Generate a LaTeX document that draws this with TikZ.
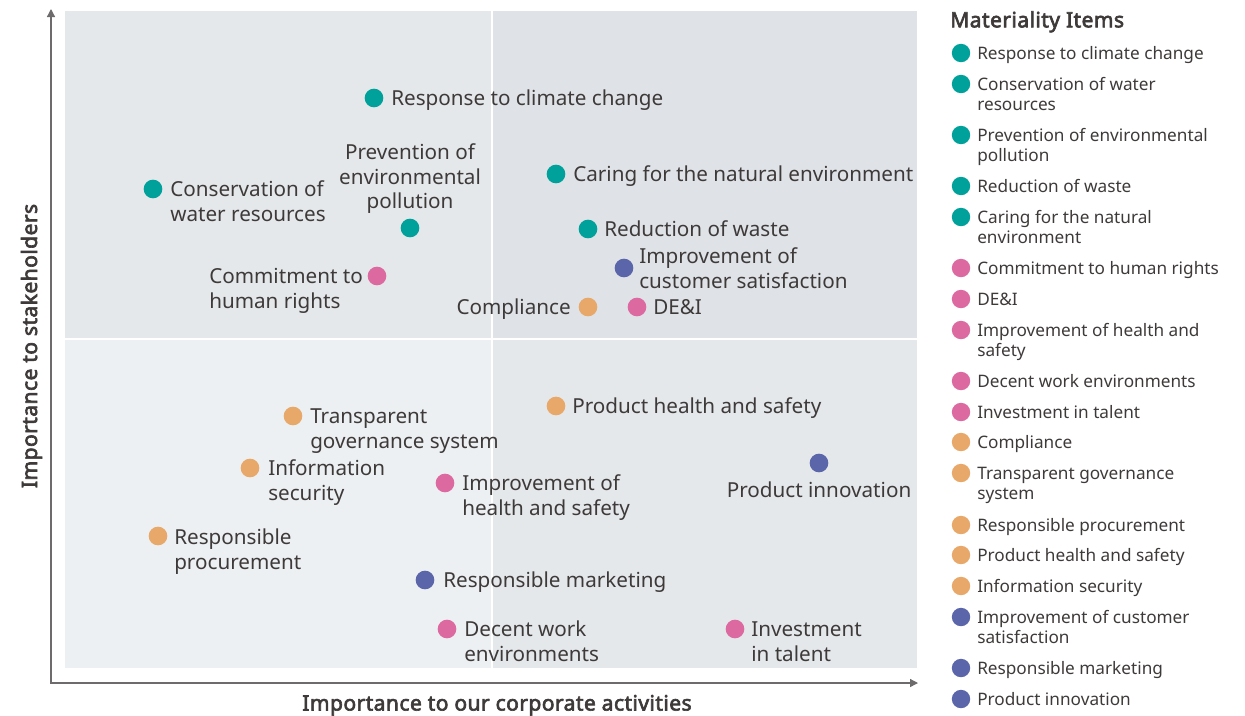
\documentclass[tikz,border=0pt]{standalone}
\usepackage{fontspec}
\setmainfont{Noto Sans}
\newfontfamily\semib{Noto Sans}[FakeBold=3,LetterSpace=2]
\usetikzlibrary{arrows.meta}
\definecolor{cteal}{HTML}{00A19A}
\definecolor{cpink}{HTML}{DD69A1}
\definecolor{corange}{HTML}{E8A869}
\definecolor{cpurple}{HTML}{5B65A9}
\definecolor{ctext}{HTML}{3E3A39}
\definecolor{caxis}{HTML}{6E6B6C}
\definecolor{qtl}{HTML}{E5E8EB}
\definecolor{qtr}{HTML}{DFE3E7}
\definecolor{qbl}{HTML}{EDF0F3}
\definecolor{qbr}{HTML}{E5E8EB}
\tikzset{
  dot/.style={circle,fill=#1,inner sep=0pt,minimum size=14pt},
  ldot/.style={circle,fill=#1,inner sep=0pt,minimum size=13.8pt},
  lbl/.style={inner sep=0pt,text=ctext,align=left,font=\fontsize{15.5}{18.4}\selectfont},
  clbl/.style={lbl,align=center},
  leg/.style={inner sep=0pt,text=ctext,align=left,anchor=base west,font=\fontsize{12.9}{15.4}\selectfont},
  axlbl/.style={inner sep=0pt,text=ctext,font=\fontsize{15.8}{18}\selectfont\semib},
  axis/.style={draw=caxis,line width=1pt,-{Triangle[length=6pt,width=6pt]}},
}
\begin{document}
\begin{tikzpicture}[x=0.75pt,y=-0.75pt]
\useasboundingbox (0,0) rectangle (1245,715);
% quadrants
\fill[qtl] (65,11) rectangle (492,338);
\fill[qtr] (492,11) rectangle (917,338);
\fill[qbl] (65,338) rectangle (492,668);
\fill[qbr] (492,338) rectangle (917,668);
\draw[white,line width=1.5pt] (65,338.5) -- (917,338.5);
\draw[white,line width=1.2pt] (491.7,11) -- (491.7,668);
% axes
\coordinate (o) at (51,683);
\coordinate (ytop) at (51,9);
\coordinate (xend) at (918,683);
\draw[axis] (o) -- (ytop);
\draw[axis] ([xshift=-0.5pt]o) -- (xend);
\node[axlbl,anchor=base] (xl) at (497,710.5) {Importance to our corporate activities};
\node[axlbl,anchor=base,rotate=90] (yl) at (37,346) {Importance to stakeholders};
% points (label anchors are at the baseline of the last line)
\node[dot=cteal] (p1) at (374,98) {};
\node[lbl,anchor=base west] (t1) at (391,105.7) {Response to climate change};
\node[dot=cteal] (p2) at (153,189) {};
\node[lbl,anchor=base west] (t2) at (170,221.2) {Conservation of\\water resources};
\node[dot=cteal] (p3) at (410,228) {};
\node[clbl,anchor=base] (t3) at (410,208.7) {Prevention of\\environmental\\pollution};
\node[dot=cteal] (p4) at (556,174) {};
\node[lbl,anchor=base west] (t4) at (573,181.7) {Caring for the natural environment};
\node[dot=cteal] (p5) at (588,229) {};
\node[lbl,anchor=base west] (t5) at (604,236.7) {Reduction of waste};
\node[dot=cpurple] (p6) at (624,268) {};
\node[lbl,anchor=base west] (t6) at (639,288.2) {Improvement of\\customer satisfaction};
\node[dot=cpink] (p7) at (377,276) {};
\node[lbl,anchor=base west] (t7) at (209,308.2) {Commitment to\\human rights};
\node[dot=corange] (p8) at (588,307) {};
\node[lbl,anchor=base east] (t8) at (571,314.7) {Compliance};
\node[dot=cpink] (p9) at (637,307) {};
\node[lbl,anchor=base west] (t9) at (653,314.7) {DE\&I};
\node[dot=corange] (p10) at (293,416) {};
\node[lbl,anchor=base west] (t10) at (310,448.2) {Transparent\\governance system};
\node[dot=corange] (p11) at (556,406) {};
\node[lbl,anchor=base west] (t11) at (572,413.7) {Product health and safety};
\node[dot=corange] (p12) at (250,468) {};
\node[lbl,anchor=base west] (t12) at (268,500.2) {Information\\security};
\node[dot=cpink] (p13) at (445,483) {};
\node[lbl,anchor=base west] (t13) at (462,515.2) {Improvement of\\health and safety};
\node[dot=cpurple] (p14) at (819,463) {};
\node[clbl,anchor=base] (t14) at (819,497.7) {Product innovation};
\node[dot=corange] (p15) at (158,536) {};
\node[lbl,anchor=base west] (t15) at (174,569.2) {Responsible\\procurement};
\node[dot=cpurple] (p16) at (425,580) {};
\node[lbl,anchor=base west] (t16) at (443,587.7) {Responsible marketing};
\node[dot=cpink] (p17) at (447,629) {};
\node[lbl,anchor=base west] (t17) at (464,661.2) {Decent work\\environments};
\node[dot=cpink] (p18) at (735,629) {};
\node[lbl,anchor=base west] (t18) at (751,661.2) {Investment\\in talent};
% legend
\node[axlbl,anchor=base west] (lt) at (950,27.3) {Materiality Items};
\foreach \yy/\nl/\cc/\lbltext [count=\i] in {
  53/0/cteal/{Response to climate change},
  84/1/cteal/{Conservation of water\\resources},
  135/1/cteal/{Prevention of environmental\\pollution},
  186/0/cteal/{Reduction of waste},
  217/1/cteal/{Caring for the natural\\environment},
  268/0/cpink/{Commitment to human rights},
  299/0/cpink/{DE\&I},
  330/1/cpink/{Improvement of health and\\safety},
  381/0/cpink/{Decent work environments},
  412/0/cpink/{Investment in talent},
  442/0/corange/{Compliance},
  473/1/corange/{Transparent governance\\system},
  525/0/corange/{Responsible procurement},
  555/0/corange/{Product health and safety},
  586/0/corange/{Information security},
  617/1/cpurple/{Improvement of customer\\satisfaction},
  668/0/cpurple/{Responsible marketing},
  699/0/cpurple/{Product innovation}}{
  \node[ldot=\cc] (ld\i) at (961,\yy) {};
  \node[leg] (lx\i) at (977,\yy+6.4+20.5*\nl) {\lbltext};
}
\end{tikzpicture}
\end{document}
